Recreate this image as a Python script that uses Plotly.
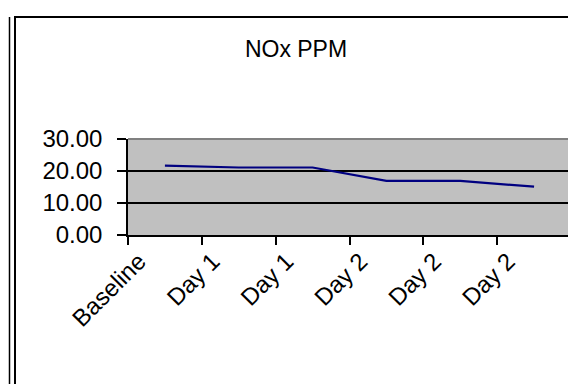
import plotly.graph_objects as go

# data
labels = ["Baseline", "Day 1", "Day 1", "Day 2", "Day 2", "Day 2"]
nox_ppm = [21.7, 21.1, 21.1, 16.9, 16.9, 15.1]
y_ticks = [0, 10, 20, 30]

positions = list(range(len(labels)))  # numeric x so repeated labels stay separate

fig = go.Figure()

fig.add_trace(go.Scatter(
    x=positions,
    y=nox_ppm,
    mode="lines",
    line=dict(color="#000080", width=2.2),
    showlegend=False,
))

# plot area in pixels: left 120, right 563, top 131, bottom 227
fig.update_layout(
    width=576,
    height=384,
    margin=dict(l=120, r=13, t=131, b=157),
    paper_bgcolor="white",
    plot_bgcolor="#C0C0C0",
    font=dict(family="Liberation Sans, Arial, sans-serif", size=24, color="black"),
    title=dict(text="NOx PPM", x=0.5, xanchor="center", y=0.893, yanchor="middle",
               font=dict(size=23)),
)

fig.update_xaxes(
    range=[-0.5, len(labels) - 0.5],
    tickmode="array",
    tickvals=positions,
    ticktext=labels,
    tickangle=-45,
    ticks="",
    ticklabelshift=-26,
    ticklabelstandoff=1,
    minor=dict(tickmode="array",
               tickvals=[p - 0.5 for p in positions] + [len(labels) - 0.5],
               ticks="outside", ticklen=8, tickcolor="black", tickwidth=1.5,
               showgrid=False),
    showgrid=False,
    zeroline=False,
    showline=True,
    linecolor="black",
    linewidth=1.5,
)

fig.update_yaxes(
    range=[0, 30],
    tickmode="array",
    tickvals=y_ticks,
    tickformat=".2f",
    ticks="outside",
    ticklen=9,
    tickwidth=1.5,
    tickcolor="black",
    ticklabelstandoff=10,
    showgrid=True,
    gridcolor="black",
    gridwidth=1.5,
    zeroline=False,
    showline=True,
    linecolor="black",
    linewidth=1.5,
)

# gray top/right edge of the plot area
fig.add_shape(type="line", xref="paper", yref="paper", x0=0, x1=1, y0=1, y1=1,
              line=dict(color="#808080", width=2))
fig.add_shape(type="line", xref="paper", yref="paper", x0=1, x1=1, y0=0, y1=1,
              line=dict(color="#808080", width=2))

# chart frame (left and top edges visible, rest cropped)
fig.add_shape(type="rect", xref="paper", yref="paper",
              x0=(7 - 120) / 443, x1=1.2, y0=-2.0, y1=(227 - 9) / 96,
              line=dict(color="black", width=2))
fig.add_shape(type="line", xref="paper", yref="paper",
              x0=(1.5 - 120) / 443, x1=(1.5 - 120) / 443, y0=-2.0, y1=(227 - 9) / 96,
              line=dict(color="black", width=1.5))

fig.write_html("out.html")
